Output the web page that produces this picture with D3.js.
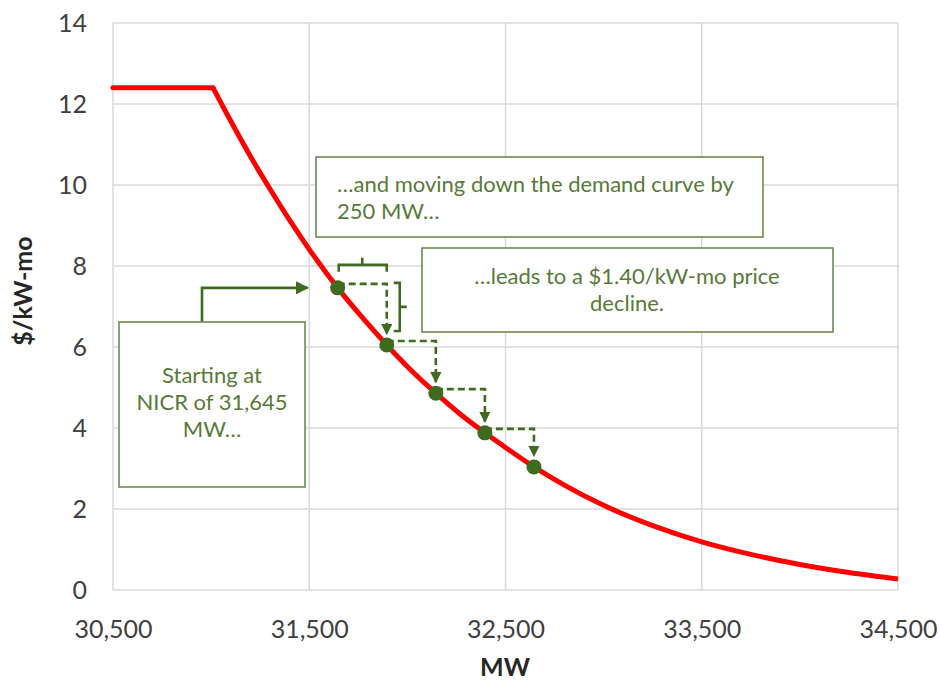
<!DOCTYPE html>
<html>
<head>
<meta charset="utf-8">
<script src="https://cdn.jsdelivr.net/npm/d3@7"></script>
<style>
  html, body { margin: 0; padding: 0; background: #fff; }
  svg { display: block; font-family: Lato, "Open Sans", sans-serif; }
</style>
</head>
<body>
<svg id="chart" width="940" height="683"></svg>
<script>
// ---- data ----
const curveMW    = [30500, 31010, 31100, 31200, 31300, 31400, 31500, 31645, 31770, 31895, 32020, 32145, 32270, 32395, 32520, 32645, 32800, 33000, 33250, 33500, 33750, 34000, 34250, 34500];
const curvePrice = [12.4, 12.4, 11.58, 10.71, 9.9, 9.13, 8.41, 7.46, 6.73, 6.05, 5.42, 4.86, 4.34, 3.88, 3.45, 3.04, 2.59, 2.09, 1.59, 1.19, 0.88, 0.63, 0.43, 0.27];
const stepMW     = [31645, 31895, 32145, 32395, 32645];
const stepPrice  = [7.46, 6.05, 4.86, 3.88, 3.04];
const xTicks     = [30500, 31500, 32500, 33500, 34500];
const yTicks     = [0, 2, 4, 6, 8, 10, 12, 14];
const xTitle = "MW";
const yTitle = "$/kW-mo";
const box1Lines = ["Starting at", "NICR of 31,645", "MW…"];
const box2Lines = ["…and moving down the demand curve by", "250 MW…"];
const box3Lines = ["…leads to a $1.40/kW-mo price", "decline."];

// ---- setup ----
const svg = d3.select("#chart");
const x = d3.scaleLinear().domain([30500, 34500]).range([113, 898]);
const y = d3.scaleLinear().domain([0, 14]).range([590, 23]);
const green = "#3f6b20";
const boxGreen = "#6b8c4c";
const textGreen = "#587a38";

const defs = svg.append("defs");
defs.append("marker").attr("id", "ah").attr("viewBox", "0 0 10 10")
  .attr("refX", 9).attr("refY", 5).attr("markerWidth", 5).attr("markerHeight", 5)
  .attr("markerUnits", "strokeWidth").attr("orient", "auto")
  .append("path").attr("d", "M0,0 L10,5 L0,10 Z").attr("fill", green);
defs.append("marker").attr("id", "ahd").attr("viewBox", "0 0 10 10")
  .attr("refX", 9).attr("refY", 5).attr("markerWidth", 4.4).attr("markerHeight", 4.4)
  .attr("markerUnits", "strokeWidth").attr("orient", "auto")
  .append("path").attr("d", "M0,0 L10,5 L0,10 Z").attr("fill", green);

// gridlines
svg.append("g").selectAll("line").data(yTicks).join("line")
  .attr("x1", x(30500)).attr("x2", x(34500))
  .attr("y1", d => y(d)).attr("y2", d => y(d))
  .attr("stroke", "#d9d9d9").attr("stroke-width", 1.5);
svg.append("g").selectAll("line").data(xTicks).join("line")
  .attr("y1", y(0)).attr("y2", y(14))
  .attr("x1", d => x(d)).attr("x2", d => x(d))
  .attr("stroke", "#d9d9d9").attr("stroke-width", 1.5);

// axes (labels only)
const xAxis = svg.append("g").attr("transform", `translate(0,${y(0)})`)
  .call(d3.axisBottom(x).tickValues(xTicks).tickFormat(d3.format(",")).tickSize(0).tickPadding(30));
xAxis.select(".domain").remove();
xAxis.selectAll("text").attr("font-size", 25).attr("fill", "#404040").attr("font-family", "Lato, sans-serif");

const yAxis = svg.append("g").attr("transform", `translate(${x(30500)},0)`)
  .call(d3.axisLeft(y).tickValues(yTicks).tickFormat(d3.format("d")).tickSize(0).tickPadding(26));
yAxis.select(".domain").remove();
yAxis.selectAll("text").attr("font-size", 25).attr("fill", "#404040").attr("font-family", "Lato, sans-serif");

// axis titles
svg.append("text").attr("x", 505).attr("y", 676).attr("text-anchor", "middle")
  .attr("font-size", 25).attr("font-weight", "bold").attr("fill", "#262626").text(xTitle);
svg.append("text").attr("transform", "translate(32,291) rotate(-90)").attr("text-anchor", "middle")
  .attr("font-size", 25).attr("font-weight", "bold").attr("fill", "#262626").text(yTitle);

// demand curve
const pts = curveMW.map((m, i) => [m, curvePrice[i]]);
const flat = pts.slice(0, 2);
const bend = pts.slice(1);
svg.append("path").datum(flat)
  .attr("d", d3.line().x(d => x(d[0])).y(d => y(d[1])))
  .attr("fill", "none").attr("stroke", "#ff0000").attr("stroke-width", 5).attr("stroke-linecap", "round");
svg.append("path").datum(bend)
  .attr("d", d3.line().x(d => x(d[0])).y(d => y(d[1])).curve(d3.curveMonotoneX))
  .attr("fill", "none").attr("stroke", "#ff0000").attr("stroke-width", 5).attr("stroke-linejoin", "round");

// dashed step arrows
const steps = stepMW.slice(0, -1).map((m, i) => ({x0: x(m), y0: y(stepPrice[i]), x1: x(stepMW[i + 1]), y1: y(stepPrice[i + 1])}));
svg.append("g").selectAll("path").data(steps).join("path")
  .attr("d", s => `M${s.x0},${s.y0 - 4} H${s.x1} V${s.y1 - 11}`)
  .attr("fill", "none").attr("stroke", green).attr("stroke-width", 2.6)
  .attr("stroke-dasharray", "7,4").attr("marker-end", "url(#ahd)");

// brackets on first step
const s0 = steps[0];
const by = s0.y0 - 23;
svg.append("path")
  .attr("d", `M${s0.x0 + 1},${by + 7} V${by} H${s0.x1} V${by + 7} M${(s0.x0 + s0.x1) / 2},${by} V${by - 7}`)
  .attr("fill", "none").attr("stroke", green).attr("stroke-width", 2.6);
const bx = s0.x1 + 13;
const byTop = s0.y0 - 5, byBot = s0.y1 - 14;
svg.append("path")
  .attr("d", `M${bx - 6},${byTop} H${bx} V${byBot} H${bx - 6} M${bx},${(byTop + byBot) / 2} H${bx + 7}`)
  .attr("fill", "none").attr("stroke", green).attr("stroke-width", 2.6);

// dots
svg.append("g").selectAll("circle").data(stepMW).join("circle")
  .attr("cx", d => x(d)).attr("cy", (d, i) => y(stepPrice[i])).attr("r", 7.5)
  .attr("fill", green);

// arrow from box 1
svg.append("path")
  .attr("d", `M202,322 V${y(stepPrice[0])} H${x(stepMW[0]) - 30}`)
  .attr("fill", "none").attr("stroke", green).attr("stroke-width", 2.6).attr("marker-end", "url(#ah)");

// text boxes
function box(x0, y0, w, h, lines, anchor, tx, ty, lh) {
  svg.append("rect").attr("x", x0).attr("y", y0).attr("width", w).attr("height", h)
    .attr("fill", "#fff").attr("stroke", boxGreen).attr("stroke-width", 1.6);
  const t = svg.append("text").attr("font-size", 22).attr("fill", textGreen).attr("text-anchor", anchor);
  lines.forEach((l, i) => t.append("tspan").attr("x", tx).attr("y", ty + i * lh).text(l));
}
box(119, 322, 186, 165, box1Lines, "middle", 212, 383, 27);
box(316, 157, 447, 80, box2Lines, "start", 337, 192, 27);
box(422, 248, 411, 84, box3Lines, "middle", 627, 284, 27);
</script>
</body>
</html>
